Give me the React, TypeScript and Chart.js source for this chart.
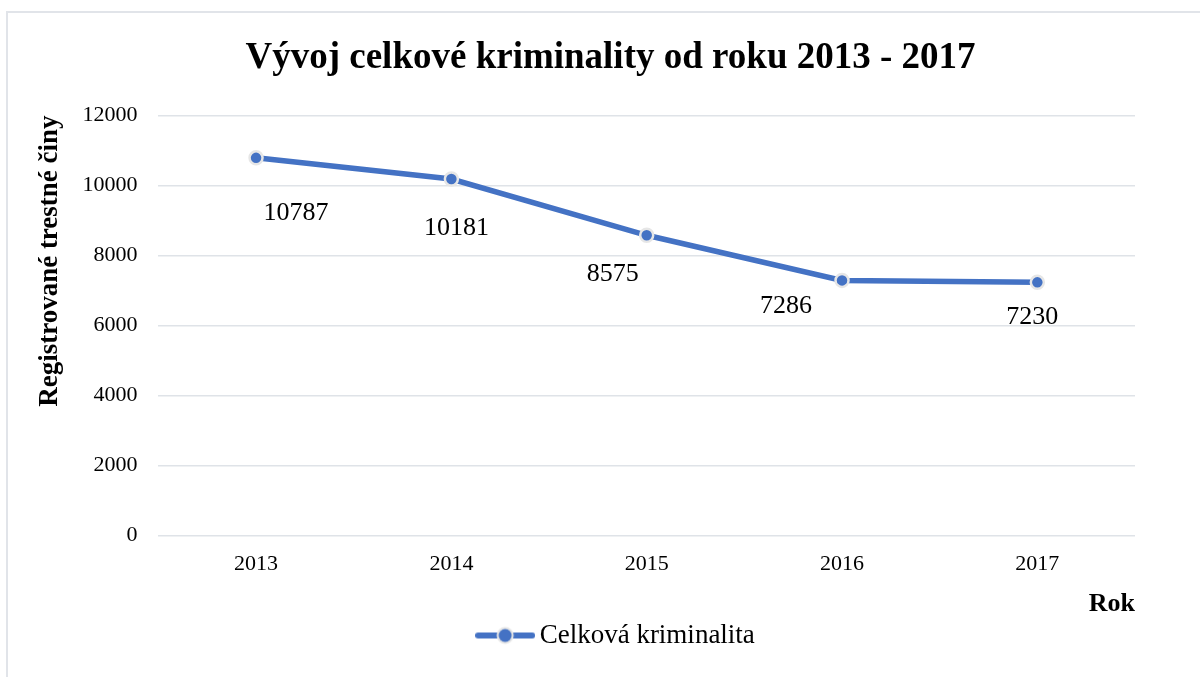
import React, { useEffect, useRef } from "react";
import { Chart, registerables } from "chart.js";

Chart.register(...registerables);

const categories = ["2013", "2014", "2015", "2016", "2017"];
const crimeValues = [10787, 10181, 8575, 7286, 7230];
const seriesName = "Celková kriminalita";
const chartTitle = "Vývoj celkové kriminality od roku 2013 - 2017";
const yAxisTitle = "Registrované trestné činy";
const xAxisTitle = "Rok";

const LINE_COLOR = "#4472C4";
const FONT = "'Liberation Serif', 'Times New Roman', serif";
// label offsets (px) relative to each point, as placed in the original
const labelDx = [40, 5, -34, -56, -5];
const labelDy = [55, 49, 39, 26, 35];
// horizontal shifts of title and legend blocks, as placed in the original
const TITLE_SHIFT = 26;
const LEGEND_SHIFT = 35;

function makeLegendMarker(): HTMLCanvasElement {
  const c = document.createElement("canvas");
  c.width = 60;
  c.height = 20;
  const ctx = c.getContext("2d")!;
  ctx.strokeStyle = LINE_COLOR;
  ctx.lineWidth = 6;
  ctx.lineCap = "round";
  ctx.beginPath();
  ctx.moveTo(3, 10);
  ctx.lineTo(57, 10);
  ctx.stroke();
  ctx.beginPath();
  ctx.arc(30, 10, 8.5, 0, Math.PI * 2);
  ctx.fillStyle = "#e6e6e6";
  ctx.fill();
  ctx.beginPath();
  ctx.arc(30, 10, 6.5, 0, Math.PI * 2);
  ctx.fillStyle = LINE_COLOR;
  ctx.fill();
  return c;
}

const shiftPlugin = {
  id: "shiftBlocks",
  afterLayout(chart: any) {
    if (chart.titleBlock) {
      chart.titleBlock.left += TITLE_SHIFT;
      chart.titleBlock.right += TITLE_SHIFT;
    }
    if (chart.legend) {
      chart.legend.left += LEGEND_SHIFT;
      chart.legend.right += LEGEND_SHIFT;
    }
  },
};

const dataLabelPlugin = {
  id: "dataLabels",
  afterDatasetsDraw(chart: any) {
    const ctx = chart.ctx;
    const meta = chart.getDatasetMeta(0);
    ctx.save();
    ctx.font = `26px ${FONT}`;
    ctx.fillStyle = "#000";
    ctx.textAlign = "center";
    ctx.textBaseline = "middle";
    meta.data.forEach((pt: any, i: number) => {
      const v = chart.data.datasets[0].data[i];
      ctx.fillText(String(v), pt.x + labelDx[i], pt.y + labelDy[i]);
    });
    ctx.restore();
  },
};

export default function App() {
  const ref = useRef<HTMLCanvasElement>(null);
  useEffect(() => {
    if (!ref.current) return;
    const marker = makeLegendMarker();
    const chart = new Chart(ref.current, {
      type: "line",
      data: {
        labels: categories,
        datasets: [
          {
            label: seriesName,
            data: crimeValues,
            borderColor: LINE_COLOR,
            backgroundColor: LINE_COLOR,
            borderWidth: 5.5,
            pointRadius: 6.5,
            pointBackgroundColor: LINE_COLOR,
            pointBorderColor: "#e6e6e6",
            pointBorderWidth: 2.5,
            tension: 0,
          },
        ],
      },
      options: {
        animation: false,
        responsive: false,
        maintainAspectRatio: false,
        layout: { padding: { left: 34, right: 65, top: 16, bottom: 18 } },
        plugins: {
          tooltip: { enabled: false },
          title: {
            display: true,
            text: chartTitle,
            color: "#000",
            font: { family: FONT, size: 37, weight: "bold" },
            padding: { top: 20, bottom: 35 },
          },
          legend: {
            position: "bottom",
            labels: {
              usePointStyle: true,
              pointStyleWidth: 42,
              color: "#000",
              font: { family: FONT, size: 27 },
              padding: 2,
              generateLabels: (ch: any) => {
                const items = Chart.defaults.plugins.legend.labels.generateLabels(ch);
                return items.map((it: any) => ({ ...it, pointStyle: marker }));
              },
            },
          },
        },
        scales: {
          x: {
            offset: true,
            grid: { display: false, drawTicks: false },
            border: { display: false },
            ticks: { color: "#000", font: { family: FONT, size: 22 }, padding: 16 },
            title: {
              display: true,
              text: xAxisTitle,
              align: "end",
              color: "#000",
              font: { family: FONT, size: 26, weight: "bold" },
              padding: { top: -5, bottom: 0 },
            },
          },
          y: {
            min: 0,
            max: 12000,
            ticks: {
              stepSize: 2000,
              color: "#000",
              font: { family: FONT, size: 22 },
              padding: 21,
              callback: (v: any) => String(v),
            },
            grid: { color: "#dfe3e8", lineWidth: 1.5, drawTicks: false },
            border: { display: false },
            title: {
              display: true,
              text: yAxisTitle,
              align: "end",
              color: "#000",
              font: { family: FONT, size: 27, weight: "bold" },
              padding: { top: 0, bottom: -5 },
            },
          },
        },
      },
      plugins: [shiftPlugin, dataLabelPlugin],
    });
    return () => chart.destroy();
  }, []);

  return (
    <div style={{ position: "fixed", left: 0, top: 0, width: 1200, height: 677, background: "#fff" }}>
      <div
        style={{
          position: "absolute",
          left: 6,
          top: 11,
          width: 1200,
          height: 700,
          border: "2px solid #e1e4e9",
          boxSizing: "border-box",
        }}
      />
      <canvas ref={ref} width={1200} height={677} style={{ position: "absolute", left: 0, top: 0 }} />
    </div>
  );
}
